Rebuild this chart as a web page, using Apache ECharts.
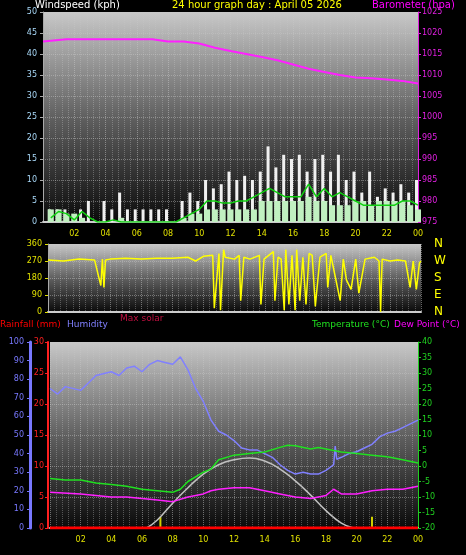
<!DOCTYPE html>
<html>
<head>
<meta charset="utf-8">
<script src="https://cdn.jsdelivr.net/npm/echarts@6/dist/echarts.min.js"></script>
<style>html,body{margin:0;background:#000}#c{width:466px;height:555px}</style>
</head>
<body>
<div id="c"></div>
<script>
// wind, half-hour steps
const windTimes = [0.5,1,1.5,2,2.5,3,3.5,4,4.5,5,5.5,6,6.5,7,7.5,8,8.5,9,9.5,10,10.5,11,11.5,12,12.5,13,13.5,14,14.5,15,15.5,16,16.5,17,17.5,18,18.5,19,19.5,20,20.5,21,21.5,22,22.5,23,23.5,24];
const gust = [3,3,3,0,3,5,0,5,3,7,3,3,3,3,3,3,0,5,7,5,10,8,9,12,10,11,10,12,18,13,16,15,16,12,15,16,12,16,10,12,7,12,6,8,7,9,7,10];
const speed = [3,3,2,2,1,0,0,0,0,1,0,0,0,0,0,0,0,1,2,2,3,3,3,3,3,3,3,5,5,5,5,5,5,6,5,5,4,4,4,5,5,4,5,5,5,5,4,3];
const avgSpeed = [1,2.5,2,0.5,2.5,1,0,0,0.5,0,0,0,0,0,0,0,0,1,2,3,5,5,4.5,4.5,5,5,6,7,8,7,6,6,6,9,6,8,6,7,6,5,4,4,4,4,4,5,5,4];
const pressTimes = [0,1.5,3,5,7,8,9,10,11,12,13,14,15,16,17,18,19,20,21,22,23,24];
const pressure = [1018,1018.5,1018.5,1018.5,1018.5,1018,1018,1017.5,1016.5,1015.7,1015,1014.3,1013.5,1012.5,1011.5,1010.7,1010,1009.4,1009.2,1008.9,1008.6,1008];

const dirTimes = [0,1,2,3,3.4,3.5,3.6,3.7,3.8,4,5,6,7,8,9,9.5,10,10.6,10.7,11,11.1,11.3,11.4,11.5,12,12.3,12.4,12.6,13,13.6,13.7,13.9,14,14.5,14.6,14.8,15,15.2,15.3,15.5,15.7,15.9,16,16.2,16.4,16.6,16.8,17,17.2,17.5,17.9,18,18.2,18.5,18.8,19,19.2,19.5,19.8,20,20.4,21,21.3,21.4,21.5,22,22.5,23,23.3,23.5,23.7,23.9,24];
const dirValues = [275,270,280,275,140,280,130,275,280,280,285,280,285,285,290,270,295,300,20,310,10,330,290,300,280,300,60,290,280,300,40,280,290,320,60,290,280,10,330,40,300,10,330,60,290,40,310,300,30,290,310,130,300,180,60,280,170,120,280,100,280,290,270,0,280,270,275,270,130,270,120,260,270];

const humTimes = [0,0.5,1,2,2.5,3,4,4.5,5,5.5,6,6.5,7,7.5,8,8.5,9,9.5,10,10.5,11,11.5,12,12.5,13,13.5,14,14.5,15,15.5,16,16.5,17,17.5,18,18.5,18.6,18.7,19,19.5,20,20.5,21,21.5,22,22.5,23,23.5,24];
const humidity = [75,72,76,74,78,82,84,82,86,87,84,88,90,89,88,92,85,75,68,58,52,50,47,43,42,42,40,38,34,31,29,30,29,29,31,34,44,37,38,40,41,43,45,49,51,52,54,56,58];
const tempTimes = [0,1,2,3,4,5,6,7,8,8.5,9,10,10.5,11,12,13,14,15,15.5,16,17,17.5,18,19,20,21,22,23,24];
const temperature = [-4,-4.5,-4.5,-5.5,-6,-6.5,-7.5,-8,-8.5,-7.5,-5,-2,-1,2,3.5,4,4.5,6,6.7,6.5,5.5,6,5.5,4.5,4,3.5,3,2,1];
const dewTimes = [0,2,3,4,5,6,7,8,9,10,10.5,11,12,13,14,15,16,17,18,18.5,19,20,21,22,23,24];
const dewPoint = [-8.5,-9,-9.5,-10,-10,-10.5,-11,-11.5,-10,-9,-8,-7.5,-7,-7,-8,-9,-10,-10.5,-9.5,-7.5,-9,-9,-8,-7.5,-7.5,-6.5];
const solarTimes = [6.3,7,8,9,10,11,12,13,14,15,16,17,18,19,19.8];
const maxSolar = [0,1.3,4,6.5,8.7,10.2,11,11.3,10.8,9.5,7.6,5.3,2.8,0.8,0];
const rainTimes = [0,24];
const rain = [0,0];
const markTimes = [7.2,21];
const markValues = [1.8,1.8];

const hourLabels = ['02','04','06','08','10','12','14','16','18','20','22','00'];
const dirLabels = ['N','W','S','E','N'];

const pair = (t, v) => t.map((x, i) => [x, v[i]]);
const bg = {type:'linear',x:0,y:0,x2:0,y2:1,colorStops:[{offset:0,color:'#c8c8c8'},{offset:0.5,color:'#606060'},{offset:1,color:'#0a0a0a'}]};
const F = 'DejaVu Sans';
const xAx = (g, show) => ({
  type:'value', gridIndex:g, min:0, max:24, interval:2,
  axisLine:{show:true,onZero:false,lineStyle:{color:'#ccc',width:2}}, axisTick:{show:false},
  axisLabel:{show:show,color:'#e0e000',fontSize:8,fontFamily:F,
    formatter:v => v === 0 ? '' : hourLabels[v/2 - 1]},
  splitLine:{show:true,lineStyle:{color:'rgba(200,200,200,0.5)',type:'dotted'}},
  minorTick:{show:false}, minorSplitLine:{show:true,lineStyle:{color:'rgba(200,200,200,0.35)',type:'dotted'}}
});
const line = (c, w) => ({show:true,onZero:false,lineStyle:{color:c,width:w || 1}});
const tick = c => ({show:true,length:3,lineStyle:{color:c}});
const yAx = (g, o) => Object.assign({
  type:'value', gridIndex:g, position:'left',
  axisLine:line('#aaa'), axisTick:tick('#aaa'),
  splitLine:{show:true,lineStyle:{color:'rgba(200,200,200,0.45)',type:'dotted'}}
}, o);
const lab = (c, m) => ({color:c,fontSize:8,fontFamily:F,margin:m});

const chart = echarts.init(document.getElementById('c'));
chart.setOption({
  backgroundColor:'#000',
  animation:false,
  grid:[
    {left:43,top:12,width:375,height:210,show:true,backgroundColor:bg,borderWidth:0},
    {left:48,top:244,width:373,height:68,show:true,backgroundColor:bg,borderWidth:0},
    {left:50,top:342,width:368,height:186,show:true,backgroundColor:bg,borderWidth:0}
  ],
  xAxis:[xAx(0,true), xAx(1,false), xAx(2,true)],
  yAxis:[
    yAx(0,{min:0,max:50,interval:5,axisLabel:lab('#a8d8f8',6)}),
    yAx(0,{position:'right',min:975,max:1025,interval:5,splitLine:{show:false},
      axisLine:line('#e020e0'),axisTick:tick('#e020e0'),
      axisLabel:Object.assign(lab('#e020e0',4),{formatter:v => String(v)})}),
    yAx(1,{min:0,max:360,interval:90,axisLabel:lab('#e0e000',6),axisTick:tick('#e0e000')}),
    yAx(2,{min:0,max:100,interval:10,offset:20,splitLine:{show:false},
      axisLine:line('#7878ff',3),axisTick:tick('#7878ff'),axisLabel:lab('#7878ff',6)}),
    yAx(2,{min:0,max:30,interval:5,offset:2,
      axisLine:line('#ff2020',2),axisTick:tick('#ff2020'),axisLabel:lab('#ff2020',4)}),
    yAx(2,{position:'right',min:-20,max:40,interval:5,splitLine:{show:false},
      axisLine:line('#20d020'),axisTick:tick('#20d020'),axisLabel:lab('#20d020',4)})
  ],
  graphic:[
    {type:'text',left:35,top:0,style:{text:'Windspeed (kph)',fill:'#fff',font:'10px '+F}},
    {type:'text',left:172,top:0,style:{text:'24 hour graph day : April 05 2026',fill:'#ffff00',font:'10px '+F}},
    {type:'text',left:372,top:0,style:{text:'Barometer (hpa)',fill:'#ff00ff',font:'10px '+F}},
    ...dirLabels.map((s,i) => ({type:'text',left:434,top:238+i*17,style:{text:s,fill:'#ffff00',font:'12px '+F}})),
    {type:'text',left:120,top:314,style:{text:'Max solar',fill:'#c01040',font:'9px '+F}},
    {type:'text',left:0,top:320,style:{text:'Rainfall (mm)',fill:'#ff0000',font:'9px '+F}},
    {type:'text',left:67,top:320,style:{text:'Humidity',fill:'#8080ff',font:'9px '+F}},
    {type:'text',left:312,top:320,style:{text:'Temperature (°C)',fill:'#20e020',font:'9px '+F}},
    {type:'text',left:394,top:320,style:{text:'Dew Point (°C)',fill:'#ff00ff',font:'9px '+F}}
  ],
  series:[
    {type:'bar',xAxisIndex:0,yAxisIndex:0,data:pair(windTimes,gust),barWidth:3,itemStyle:{color:'#f0f0f0'},z:2},
    {type:'bar',xAxisIndex:0,yAxisIndex:0,data:pair(windTimes,speed),barWidth:6,barGap:'-100%',itemStyle:{color:'#c0f0c0'},z:3},
    {type:'line',xAxisIndex:0,yAxisIndex:0,data:pair(windTimes,avgSpeed),symbol:'none',lineStyle:{color:'#10d010',width:1.5},z:4},
    {type:'line',xAxisIndex:0,yAxisIndex:1,data:pair(pressTimes,pressure),symbol:'none',lineStyle:{color:'#ff20ff',width:2}},
    {type:'line',xAxisIndex:1,yAxisIndex:2,data:pair(dirTimes,dirValues),symbol:'none',lineStyle:{color:'#ffff00',width:1.5}},
    {type:'line',xAxisIndex:2,yAxisIndex:4,data:pair(solarTimes,maxSolar),symbol:'none',smooth:true,lineStyle:{color:'#c0c0c0',width:1.5}},
    {type:'line',xAxisIndex:2,yAxisIndex:3,data:pair(humTimes,humidity),symbol:'none',lineStyle:{color:'#8080ff',width:1.5}},
    {type:'line',xAxisIndex:2,yAxisIndex:5,data:pair(tempTimes,temperature),symbol:'none',lineStyle:{color:'#20e020',width:1.5}},
    {type:'line',xAxisIndex:2,yAxisIndex:5,data:pair(dewTimes,dewPoint),symbol:'none',lineStyle:{color:'#ff20ff',width:1.5}},
    {type:'line',xAxisIndex:2,yAxisIndex:4,data:pair(rainTimes,rain),symbol:'none',lineStyle:{color:'#ff0000',width:3}},
    {type:'bar',xAxisIndex:2,yAxisIndex:4,data:pair(markTimes,markValues),barWidth:2,itemStyle:{color:'#d0d000'}}
  ]
});
</script>
</body>
</html>
